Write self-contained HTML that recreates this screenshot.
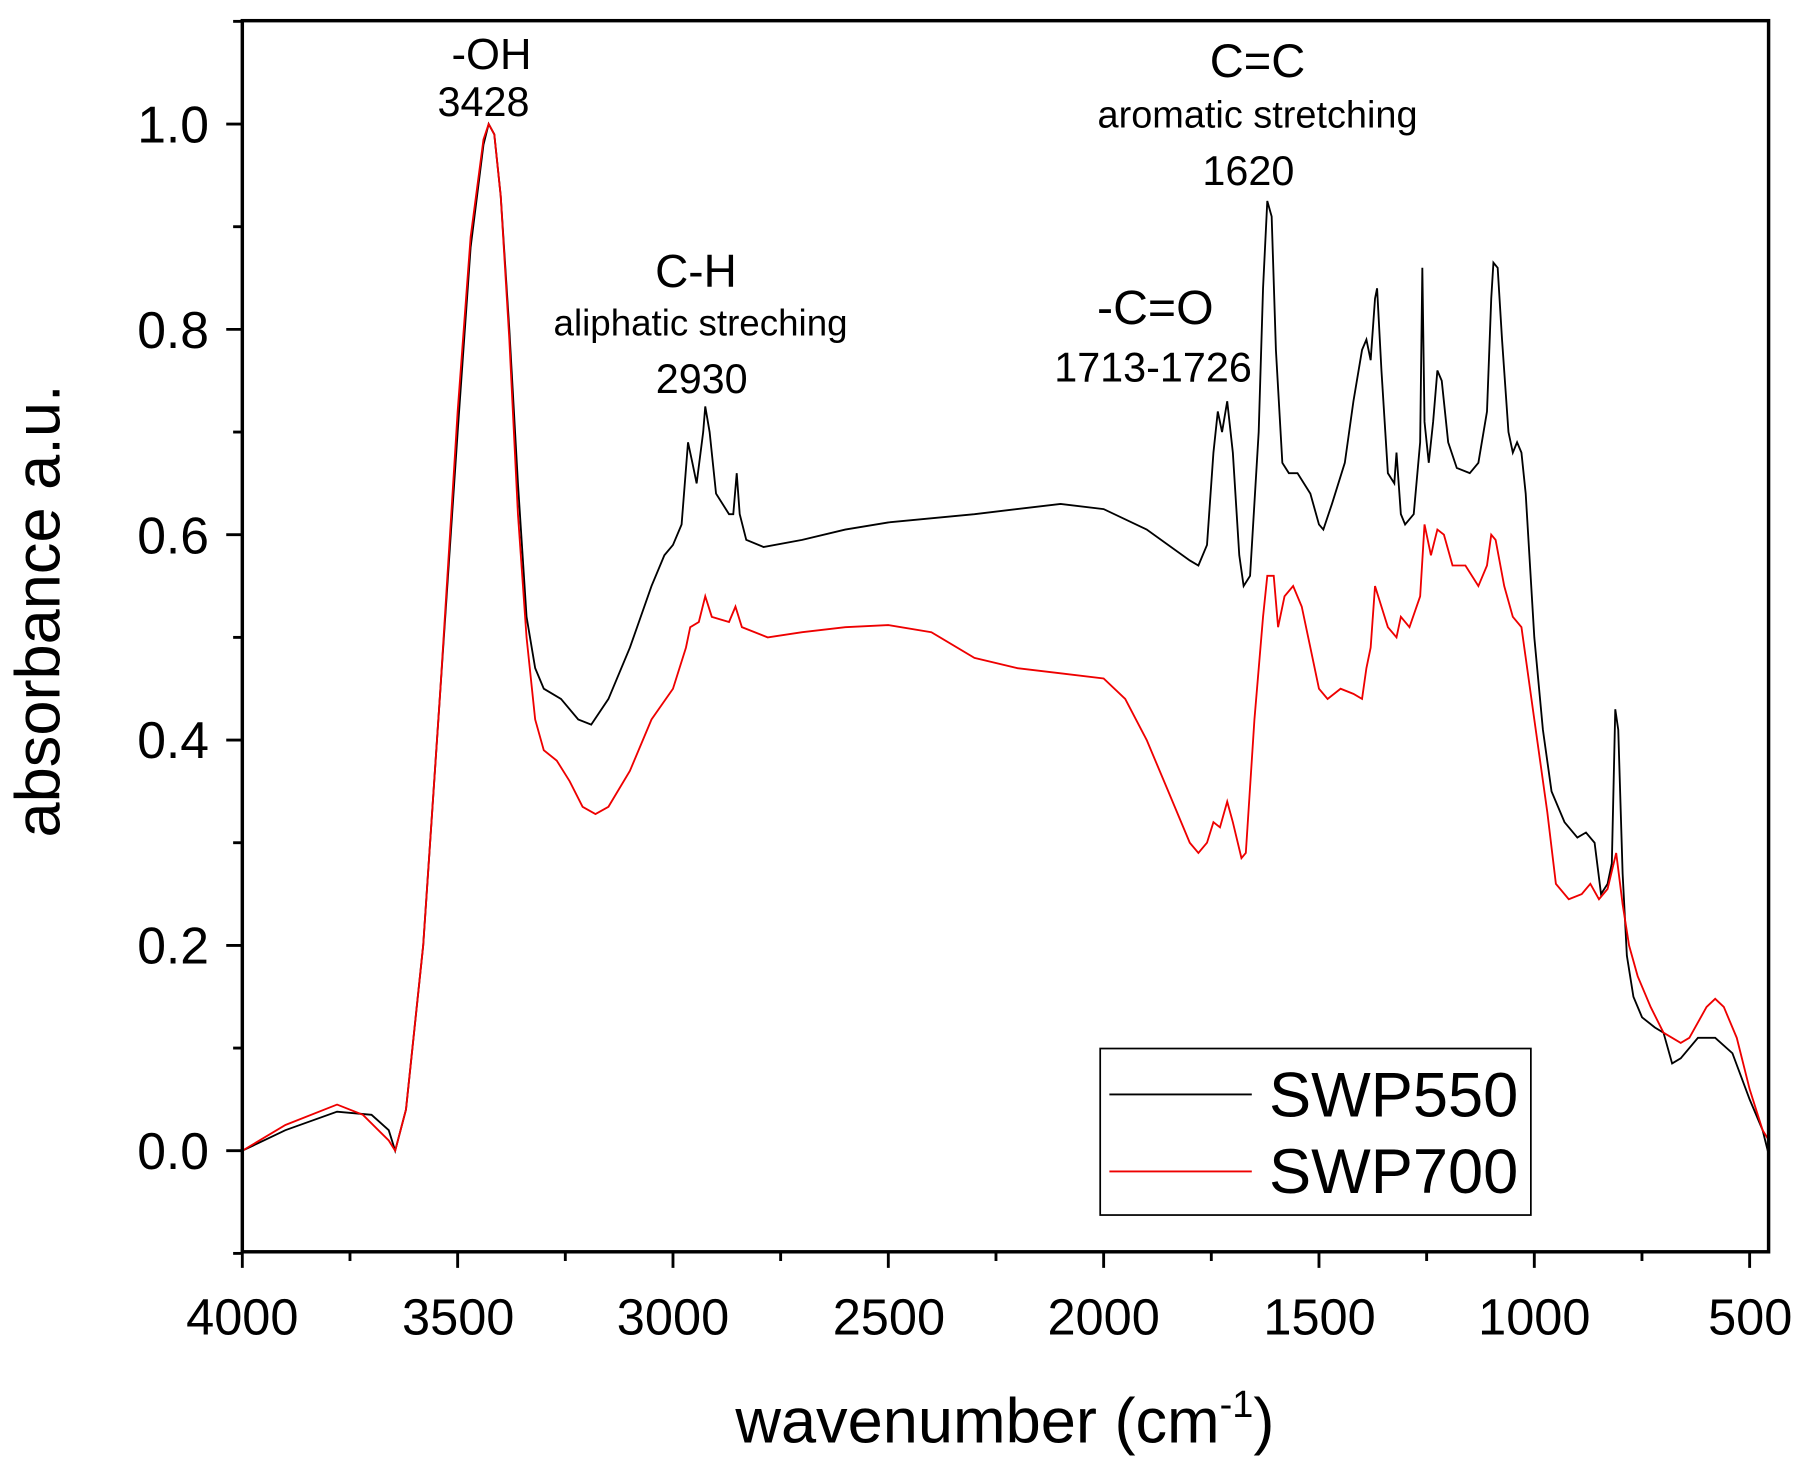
<!DOCTYPE html>
<html><head><meta charset="utf-8"><style>
html,body{margin:0;padding:0;background:#fff;}
svg{display:block;font-family:"Liberation Sans",Arial,sans-serif;}
</style></head><body>
<svg id="s" width="1795" height="1470" viewBox="0 0 1563 1280" xmlns="http://www.w3.org/2000/svg">
<rect width="1563" height="1280" fill="#fff"/>
<g id="ticks" stroke="#000" stroke-width="2.5"></g>
<path id="p1" fill="none" stroke="#000" stroke-width="1.6"/>
<path id="p2" fill="none" stroke="#e00" stroke-width="1.6"/>
<rect x="211" y="18" width="1329" height="1072" fill="none" stroke="#000" stroke-width="3"/>
<g font-size="45" text-anchor="end">
<text x="182" y="1018">0.0</text><text x="182" y="839">0.2</text><text x="182" y="660">0.4</text>
<text x="182" y="482">0.6</text><text x="182" y="303">0.8</text><text x="182" y="124">1.0</text>
</g>
<g font-size="44" text-anchor="middle">
<text x="211" y="1162">4000</text><text x="399" y="1162">3500</text><text x="586" y="1162">3000</text>
<text x="774" y="1162">2500</text><text x="961" y="1162">2000</text><text x="1149" y="1162">1500</text>
<text x="1336" y="1162">1000</text><text x="1524" y="1162">500</text>
</g>
<text x="875" y="1256" font-size="55" text-anchor="middle">wavenumber (cm<tspan dy="-22" font-size="33">-1</tspan><tspan dy="22">)</tspan></text>
<text transform="translate(52,532) rotate(-90)" font-size="55" text-anchor="middle">absorbance a.u.</text>
<g text-anchor="middle">
<text x="428" y="60" font-size="38">-OH</text>
<text x="421" y="101" font-size="36">3428</text>
<text x="606" y="250" font-size="40">C-H</text>
<text x="610" y="292" font-size="32">aliphatic streching</text>
<text x="611" y="342" font-size="36">2930</text>
<text x="1006" y="282" font-size="42">-C=O</text>
<text x="1004" y="332" font-size="36">1713-1726</text>
<text x="1095" y="67" font-size="41">C=C</text>
<text x="1095" y="111" font-size="33">aromatic stretching</text>
<text x="1087" y="161" font-size="36">1620</text>
</g>
<rect x="958" y="913" width="375" height="145" fill="#fff" stroke="#000" stroke-width="1.5"/>
<line x1="966" y1="953" x2="1090" y2="953" stroke="#000" stroke-width="1.6"/>
<line x1="966" y1="1020" x2="1090" y2="1020" stroke="#e00" stroke-width="1.6"/>
<text x="1105" y="972" font-size="55">SWP550</text>
<text x="1105" y="1039" font-size="55">SWP700</text>
</svg>
<script>
function X(w){return 211+(4000-w)*0.375;}
function Y(a){return 1002-a*894;}
var b=[4000,0,3900,0.02,3780,0.038,3700,0.035,3660,0.02,3645,0.0,3620,0.04,3580,0.2,3540,0.45,3500,0.7,3470,0.88,3440,0.98,3428,1.0,3415,0.99,3400,0.93,3380,0.8,3360,0.65,3340,0.52,3320,0.47,3300,0.45,3260,0.44,3220,0.42,3190,0.415,3150,0.44,3100,0.49,3050,0.55,3020,0.58,3000,0.59,2980,0.61,2965,0.69,2955,0.67,2945,0.65,2930,0.70,2925,0.725,2915,0.70,2900,0.64,2870,0.62,2860,0.62,2852,0.66,2845,0.62,2830,0.595,2790,0.588,2700,0.595,2600,0.605,2500,0.612,2300,0.62,2100,0.63,2000,0.625,1900,0.605,1800,0.575,1780,0.57,1760,0.59,1745,0.68,1735,0.72,1725,0.70,1713,0.73,1700,0.68,1685,0.58,1675,0.55,1660,0.56,1640,0.7,1630,0.84,1620,0.925,1610,0.91,1600,0.78,1585,0.67,1570,0.66,1550,0.66,1520,0.64,1500,0.61,1490,0.605,1470,0.63,1440,0.67,1420,0.73,1400,0.78,1390,0.79,1380,0.77,1370,0.83,1365,0.84,1355,0.76,1340,0.66,1325,0.65,1320,0.68,1310,0.62,1300,0.61,1280,0.62,1265,0.69,1260,0.86,1255,0.71,1245,0.67,1235,0.71,1225,0.76,1215,0.75,1200,0.69,1180,0.665,1150,0.66,1130,0.67,1110,0.72,1100,0.83,1095,0.865,1085,0.86,1075,0.79,1060,0.70,1050,0.68,1040,0.69,1030,0.68,1020,0.64,1000,0.5,980,0.41,960,0.35,930,0.32,900,0.305,880,0.31,860,0.3,845,0.25,830,0.26,820,0.28,812,0.43,805,0.41,795,0.27,785,0.19,770,0.15,750,0.13,720,0.12,700,0.115,680,0.085,660,0.09,620,0.11,580,0.11,540,0.095,500,0.05,470,0.02,455,-0.005];
var r=[4000,0,3900,0.025,3780,0.045,3720,0.035,3660,0.01,3645,0.0,3620,0.04,3580,0.2,3540,0.45,3500,0.72,3470,0.89,3440,0.985,3428,1.0,3415,0.99,3400,0.93,3380,0.79,3360,0.62,3340,0.5,3320,0.42,3300,0.39,3270,0.38,3240,0.36,3210,0.335,3180,0.328,3150,0.335,3100,0.37,3050,0.42,3000,0.45,2970,0.49,2960,0.51,2940,0.515,2925,0.54,2910,0.52,2870,0.515,2855,0.53,2840,0.51,2780,0.5,2700,0.505,2600,0.51,2500,0.512,2400,0.505,2300,0.48,2200,0.47,2100,0.465,2000,0.46,1950,0.44,1900,0.4,1850,0.35,1800,0.3,1780,0.29,1760,0.3,1745,0.32,1730,0.315,1713,0.34,1700,0.32,1680,0.285,1670,0.29,1650,0.42,1630,0.52,1620,0.56,1605,0.56,1595,0.51,1580,0.54,1560,0.55,1540,0.53,1520,0.49,1500,0.45,1480,0.44,1450,0.45,1420,0.445,1400,0.44,1390,0.47,1380,0.49,1370,0.55,1355,0.53,1340,0.51,1320,0.50,1310,0.52,1290,0.51,1265,0.54,1255,0.61,1240,0.58,1225,0.605,1210,0.60,1190,0.57,1160,0.57,1130,0.55,1110,0.57,1100,0.60,1090,0.595,1070,0.55,1050,0.52,1030,0.51,1000,0.42,970,0.33,950,0.26,920,0.245,890,0.25,870,0.26,850,0.245,830,0.255,810,0.29,795,0.24,780,0.2,760,0.17,730,0.14,700,0.115,660,0.105,640,0.11,600,0.14,580,0.148,560,0.14,530,0.11,500,0.06,470,0.02,455,0.01];
function P(a){var d="";for(var i=0;i<a.length;i+=2){d+=(i?"L":"M")+X(a[i]).toFixed(1)+" "+Y(a[i+1]).toFixed(1);}return d;}
document.getElementById("p1").setAttribute("d",P(b));
document.getElementById("p2").setAttribute("d",P(r));
var t="";
for(var w=4000;w>=500;w-=250){var x=X(w),L=(w%500==0)?14:8;t+='<line x1="'+x+'" y1="1090" x2="'+x+'" y2="'+(1090+L)+'"/>';}
for(var k=-1;k<=11;k++){var y=Y(k/10),L=(k%2==0)?14:8;t+='<line x1="211" y1="'+y+'" x2="'+(211-L)+'" y2="'+y+'"/>';}
document.getElementById("ticks").innerHTML=t;
</script>
</body></html>
